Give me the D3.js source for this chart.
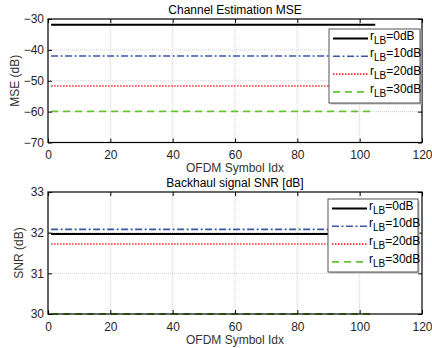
<!DOCTYPE html>
<html>
<head>
<meta charset="utf-8">
<script src="https://cdn.jsdelivr.net/npm/d3@7"></script>
<style>
  html, body { margin: 0; padding: 0; background: #fff; }
  svg { display: block; font-family: "Liberation Sans", Arial, sans-serif; }
</style>
</head>
<body>
<svg id="chart" width="432" height="348"></svg>
<script>
// OFDM symbol span covered by every trace (first and last symbol index)
const symbolSpan = [1, 105];

// Legend labels: r_LB levels
const lbLevels = ["0dB", "10dB", "20dB", "30dB"];

// Channel estimation MSE (dB) for each r_LB level
const mseValues = [-31.9, -42.0, -51.7, -59.9];

// Backhaul signal SNR (dB) for each r_LB level
const snrValues = [31.97, 32.08, 31.72, 30.0];

// Axis ticks
const xTicks = [0, 20, 40, 60, 80, 100, 120];
const mseTicks = [-70, -60, -50, -40, -30];
const snrTicks = [30, 31, 32, 33];

const styles = [
  { color: "#000000", dash: null, width: 2 },
  { color: "#3a56a8", dash: "7,2.5,2,2.5", width: 1.6 },
  { color: "#ff2a2a", dash: "1.5,1.5", width: 1.6 },
  { color: "#66c433", dash: "7,5", width: 1.8 }
];

const svg = d3.select("#chart");

function panel(opts) {
  const { left, right, top, bottom, yDomain, yTicks, values, title, yLabel, legendBox } = opts;
  const x = d3.scaleLinear().domain([0, 120]).range([left, right]);
  const y = d3.scaleLinear().domain(yDomain).range([bottom, top]);
  const g = svg.append("g");

  // grid
  g.append("g").selectAll("line").data(xTicks.slice(1, -1)).join("line")
    .attr("x1", d => x(d)).attr("x2", d => x(d))
    .attr("y1", top).attr("y2", bottom)
    .attr("stroke", "#d0d0d0").attr("stroke-width", 1).attr("stroke-dasharray", "1,1");
  g.append("g").selectAll("line").data(yTicks.slice(1, -1)).join("line")
    .attr("y1", d => y(d)).attr("y2", d => y(d))
    .attr("x1", left).attr("x2", right)
    .attr("stroke", "#d0d0d0").attr("stroke-width", 1).attr("stroke-dasharray", "1,1");

  // traces
  const line = d3.line().x(d => x(d[0])).y(d => y(d[1]));
  values.forEach((v, i) => {
    const pts = symbolSpan.map(s => [s, v]);
    g.append("path").attr("d", line(pts))
      .attr("fill", "none")
      .attr("stroke", styles[i].color)
      .attr("stroke-width", styles[i].width)
      .attr("stroke-dasharray", styles[i].dash);
  });

  // axes (ticks inward on all four sides)
  const tl = 4;
  g.append("g").attr("transform", `translate(0,${bottom})`)
    .call(d3.axisBottom(x).tickValues(xTicks).tickSize(-tl).tickPadding(8).tickFormat(d3.format("d")))
    .call(a => a.select(".domain").remove());
  g.append("g").attr("transform", `translate(0,${top})`)
    .call(d3.axisTop(x).tickValues(xTicks).tickSize(-tl).tickFormat(""))
    .call(a => a.select(".domain").remove());
  g.append("g").attr("transform", `translate(${left},0)`)
    .call(d3.axisLeft(y).tickValues(yTicks).tickSize(-tl).tickPadding(4).tickFormat(d3.format("d")))
    .call(a => a.select(".domain").remove());
  g.append("g").attr("transform", `translate(${right},0)`)
    .call(d3.axisRight(y).tickValues(yTicks).tickSize(-tl).tickFormat(""))
    .call(a => a.select(".domain").remove());
  g.selectAll(".tick text").attr("font-size", 12).attr("fill", "#262626")
    .attr("font-family", "Liberation Sans, Arial, sans-serif");
  g.selectAll(".tick line").attr("stroke", "#000");

  g.append("rect").attr("x", left).attr("y", top)
    .attr("width", right - left).attr("height", bottom - top)
    .attr("fill", "none").attr("stroke", "#000").attr("stroke-width", 1.2);

  // titles
  g.append("text").attr("x", (left + right) / 2).attr("y", top - 5)
    .attr("text-anchor", "middle").attr("font-size", 12).attr("fill", "#000").text(title);
  g.append("text").attr("x", (left + right) / 2).attr("y", bottom + 29.5)
    .attr("text-anchor", "middle").attr("font-size", 12).attr("fill", "#333").text("OFDM Symbol Idx");
  g.append("text")
    .attr("transform", `translate(${opts.yLabelX},${(top + bottom) / 2}) rotate(-90)`)
    .attr("text-anchor", "middle").attr("font-size", 12).attr("fill", "#333").text(yLabel);

  // legend
  const lb = legendBox;
  const lg = g.append("g");
  lg.append("rect").attr("x", lb.x + 1.5).attr("y", lb.y + 1.5).attr("width", lb.w).attr("height", lb.h)
    .attr("fill", "#bbb");
  lg.append("rect").attr("x", lb.x).attr("y", lb.y).attr("width", lb.w).attr("height", lb.h)
    .attr("fill", "#fff").attr("stroke", "#555").attr("stroke-width", 1);
  lbLevels.forEach((lv, i) => {
    const ry = lb.y + 9.5 + i * 17.8;
    lg.append("line").attr("x1", lb.x + 4).attr("x2", lb.x + 39).attr("y1", ry).attr("y2", ry)
      .attr("stroke", styles[i].color).attr("stroke-width", styles[i].width)
      .attr("stroke-dasharray", styles[i].dash);
    const t = lg.append("text").attr("x", lb.x + 41).attr("y", ry + 1)
      .attr("font-size", 12).attr("fill", "#000");
    t.append("tspan").text("r");
    t.append("tspan").attr("dy", 4).attr("font-size", 10).text("LB");
    t.append("tspan").attr("dy", -4).text("=" + lv);
  });
}

panel({
  left: 48, right: 422, top: 19, bottom: 142.5,
  yDomain: [-70, -30], yTicks: mseTicks, values: mseValues,
  title: "Channel Estimation MSE", yLabel: "MSE (dB)", yLabelX: 19,
  legendBox: { x: 329, y: 29, w: 91, h: 74 }
});

panel({
  left: 48, right: 422, top: 192, bottom: 314,
  yDomain: [30, 33], yTicks: snrTicks, values: snrValues,
  title: "Backhaul signal SNR [dB]", yLabel: "SNR (dB)", yLabelX: 23,
  legendBox: { x: 328, y: 199, w: 90, h: 73 }
});
</script>
</body>
</html>
